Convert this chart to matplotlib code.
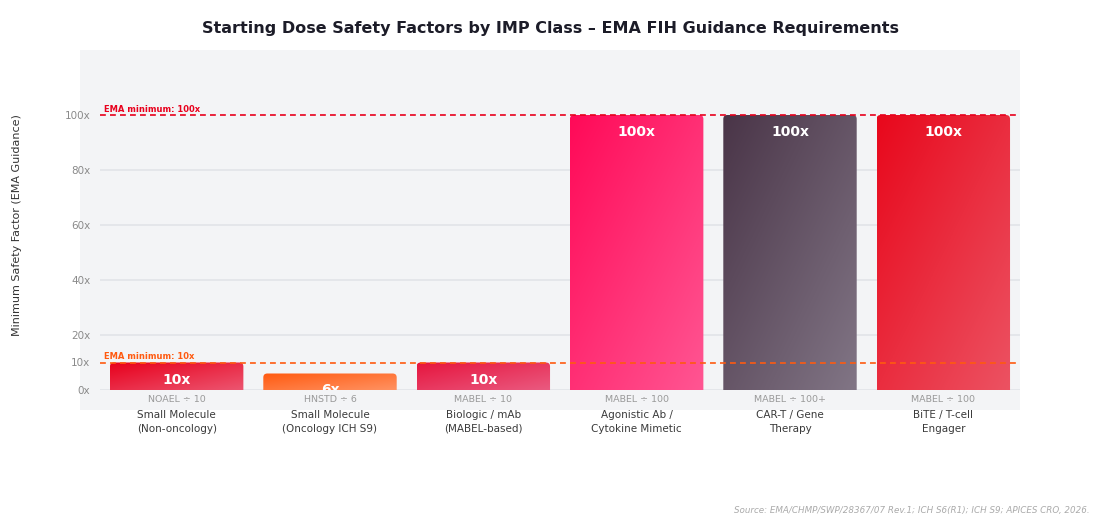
import numpy as np
import matplotlib.pyplot as plt
from matplotlib.patches import FancyBboxPatch, Rectangle
from matplotlib.colors import LinearSegmentedColormap

plt.rcParams['font.family'] = ['DejaVu Sans']

# data
categories = ["Small Molecule\n(Non-oncology)", "Small Molecule\n(Oncology ICH S9)",
              "Biologic / mAb\n(MABEL-based)", "Agonistic Ab /\nCytokine Mimetic",
              "CAR-T / Gene\nTherapy", "BiTE / T-cell\nEngager"]
basis = ["NOAEL ÷ 10", "HNSTD ÷ 6", "MABEL ÷ 10", "MABEL ÷ 100", "MABEL ÷ 100+", "MABEL ÷ 100"]
factors = [10, 6, 10, 100, 100, 100]
value_labels = ["10x", "6x", "10x", "100x", "100x", "100x"]
gradients = [("#e8001c", "#ec5570"), ("#ff5a10", "#ff9262"), ("#e6153e", "#ea5a80"),
             ("#ff0a58", "#ff5592"), ("#4a3548", "#817585"), ("#e8081c", "#ec5262")]
thresholds = [100, 10]
threshold_labels = ["EMA minimum: 100x", "EMA minimum: 10x"]
threshold_colors = ["#e8001c", "#ff5a10"]
yticks = [0, 10, 20, 40, 60, 80, 100]

W, H = 1100, 520
fig = plt.figure(figsize=(11, 5.2), dpi=100)
fig.patch.set_facecolor("white")

# grey panel behind the plot
fig.patches.append(Rectangle((80 / W, (H - 410) / H), 940 / W, 360 / H,
                             transform=fig.transFigure, facecolor="#f3f4f6",
                             edgecolor="none", zorder=-1))

ax = fig.add_axes([100 / W, (H - 390) / H, 920 / W, 340 / H])
ax.set_zorder(1)
ax.set_facecolor("none")
ymax = 340 / 2.75
for s in ax.spines.values():
    s.set_visible(False)

ax.set_yticks(yticks)
ax.set_yticklabels([f"{t}x" for t in yticks], fontsize=7.5, color="#8a8a8a")
ax.tick_params(axis="y", length=0, pad=7)
ax.set_xticks([])
for t in yticks:
    if t in thresholds:
        continue
    ax.axhline(t, color="#e4e6ea", lw=1.4, zorder=1)

width = 0.87
px_x = 920 / 6
px_y = 2.75
r = 4 / px_x
below = 4 / px_y  # bars start under the axis so only the top corners show
for i, (v, (c0, c1)) in enumerate(zip(factors, gradients)):
    x0 = i - width / 2
    patch = FancyBboxPatch((x0, -below), width, v + below,
                           boxstyle=f"round,pad=0,rounding_size={r}",
                           mutation_aspect=px_x / px_y,
                           facecolor="none", edgecolor="none", zorder=2)
    ax.add_patch(patch)
    cmap = LinearSegmentedColormap.from_list(f"g{i}", [c0, c1])
    u = np.linspace(0, 1, 60)
    grad = (u[None, :] + u[:, None]) / 2
    im = ax.imshow(grad, cmap=cmap, extent=(x0, x0 + width, 0, v), origin="upper",
                   aspect="auto", zorder=2, interpolation="bilinear")
    im.set_clip_path(patch)
    ax.text(i, v - 17 / px_y, value_labels[i], ha="center", va="center",
            color="white", fontsize=10, fontweight="bold", zorder=4, clip_on=True)
    ax.text(i, -10 / px_y, basis[i], ha="center", va="center", color="#999999",
            fontsize=6.8, clip_on=False, zorder=6)
    ax.text(i, -32 / px_y, categories[i], ha="center", va="center", color="#3a3a3a",
            fontsize=7.5, linespacing=1.45, clip_on=False, zorder=6)

ax.set_ylim(0, ymax)
ax.set_xlim(-0.5, 5.5)

for t, lab, c in zip(thresholds, threshold_labels, threshold_colors):
    ax.axhline(t, color=c, lw=1.2, ls=(0, (3.5, 2.5)), zorder=3)
    ax.text(-0.5 + 4 / px_x, t + 1.5 / px_y, lab, ha="left", va="bottom",
            color=c, fontsize=6, fontweight="bold", zorder=4)

# zero line
ax.axhline(0, color="#e4e6ea", lw=1.4, zorder=1)

# strip for the basis labels, drawn over the bars
ax.add_patch(Rectangle((100 / W, (H - 410) / H), 920 / W, 19.5 / H,
                       transform=fig.transFigure, facecolor="#f3f4f6",
                       edgecolor="none", zorder=5, clip_on=False))

fig.text(17 / W, 1 - 225 / H, "Minimum Safety Factor (EMA Guidance)", rotation=90,
         ha="center", va="center", fontsize=8, color="#333333")
fig.text(550 / W, 1 - 29 / H,
         "Starting Dose Safety Factors by IMP Class \u2013 EMA FIH Guidance Requirements",
         ha="center", va="center", fontsize=11.5, fontweight="bold", color="#1c1c28")
fig.text(1090 / W, 1 - 511 / H,
         "Source: EMA/CHMP/SWP/28367/07 Rev.1; ICH S6(R1); ICH S9; APICES CRO, 2026.",
         ha="right", va="center", fontsize=6.3, style="italic", color="#aaaaaa")

fig.savefig("out.png", dpi=100)
